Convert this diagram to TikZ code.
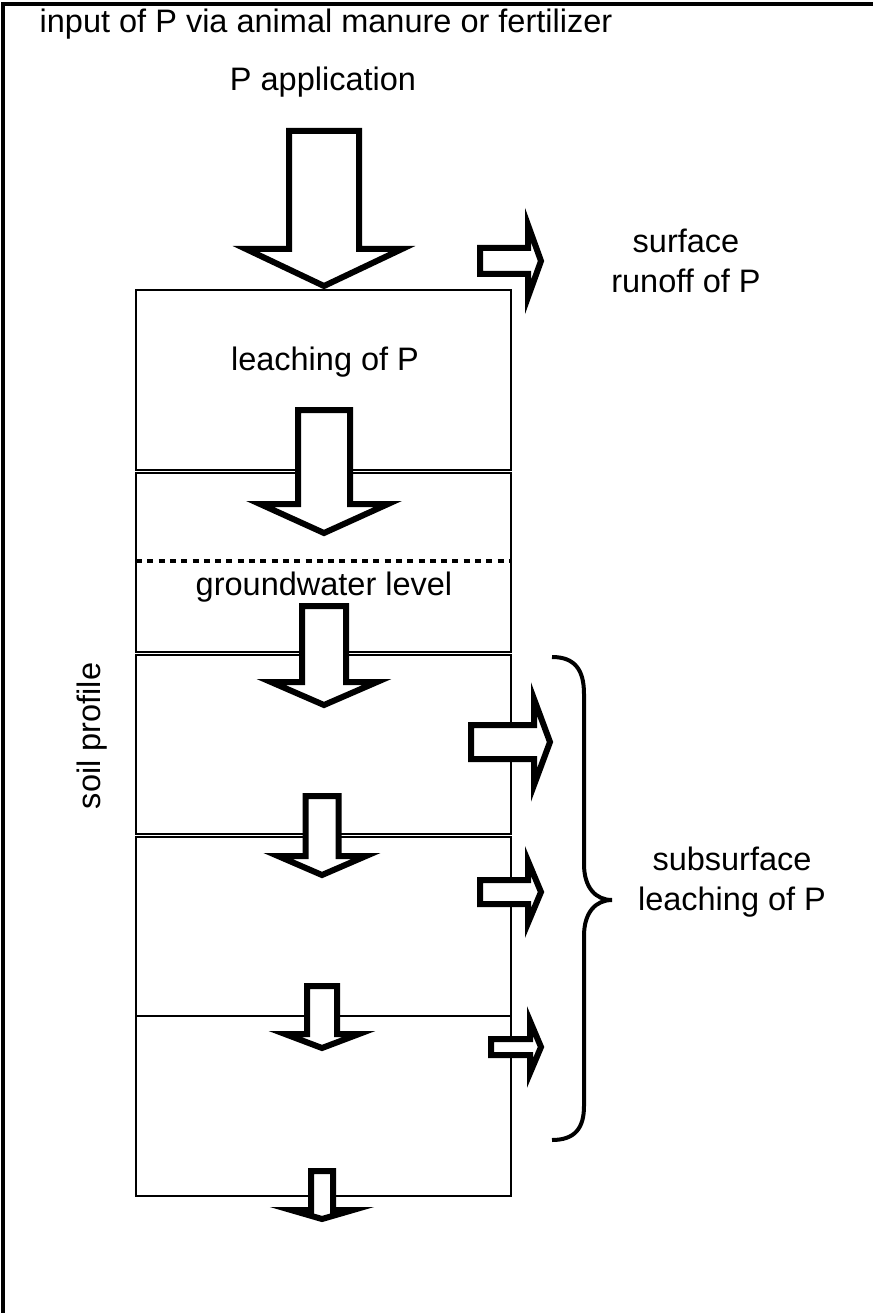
\documentclass[tikz,border=0pt]{standalone}
\usepackage{fontspec}
\setmainfont{Liberation Sans}
\begin{document}
\begin{tikzpicture}[x=1pt,y=-1pt,
  layer/.style={draw=black,line width=1.4pt},
  blockarrow/.style={draw=black,fill=white,line width=6pt,line join=miter,miter limit=10},
  lbl/.style={inner sep=0pt,font=\fontsize{32.5}{40}\selectfont,align=center}]
\useasboundingbox (0,0) rectangle (873,1313);
\fill[white] (0,0) rectangle (873,1313);
% frame
\draw[line width=4pt] (3,1313) -- (3,4) -- (873,4);
% soil layers
\draw[layer] (136,290) rectangle (511,470);
\draw[layer] (136,473) rectangle (511,652);
\draw[layer] (136,655) rectangle (511,834);
\draw[layer] (136,837) rectangle (511,1016);
\draw[layer] (136,1016) rectangle (511,1196);
% groundwater dotted line
\draw[line width=4.5pt,dash pattern=on 6pt off 5.3pt] (136,561) -- (511,561);
% down arrows: (cx,w,t,h,W,p)
\newcommand{\downarrowshape}[6]{%
  \draw[blockarrow] (#1-#2,#3) -- (#1+#2,#3) -- (#1+#2,#4) -- (#1+#5,#4) -- (#1,#6) -- (#1-#5,#4) -- (#1-#2,#4) -- cycle;}
\newcommand{\rightarrowshape}[6]{%
  % (cy,w,l,b,W,tip)
  \draw[blockarrow] (#3,#1-#2) -- (#4,#1-#2) -- (#4,#1-#5) -- (#6,#1) -- (#4,#1+#5) -- (#4,#1+#2) -- (#3,#1+#2) -- cycle;}
\downarrowshape{324}{35}{131}{249}{78}{286}
\downarrowshape{324}{26}{410}{504}{64}{533}
\downarrowshape{324}{22}{606}{682}{53}{705}
\downarrowshape{322}{16.5}{796}{856}{44}{875}
\downarrowshape{322}{15}{986}{1034}{37}{1048}
\downarrowshape{322}{11}{1171}{1210}{31}{1219}
% right arrows
\rightarrowshape{261}{13}{480}{528}{36}{541}
\rightarrowshape{742}{17}{471}{534}{43}{550}
\rightarrowshape{892}{12}{480}{528}{31}{541}
\rightarrowshape{1047}{8}{491}{530}{26}{541}
% brace
\draw[line width=4pt] (552,657) .. controls (575,657) and (584,670) .. (584,694)
  -- (584,864) .. controls (584,888) and (596,900) .. (612,900)
  .. controls (596,900) and (584,912) .. (584,936)
  -- (584,1106) .. controls (584,1128) and (575,1140) .. (552,1140);
% labels
\node[lbl] (input) at (326,24) {input of P via animal manure or fertilizer};
\node[lbl] (papp) at (323,82) {P application};
\node[lbl] (runoff) at (686,261) {surface\\runoff of P};
\node[lbl] (leach) at (325,362) {leaching of P};
\node[lbl] (gw) at (324,587) {groundwater level};
\node[lbl,rotate=90] (soil) at (92,736) {soil profile};
\node[lbl] (sub) at (732,882) {subsurface\\leaching of P};
\end{tikzpicture}
\end{document}
